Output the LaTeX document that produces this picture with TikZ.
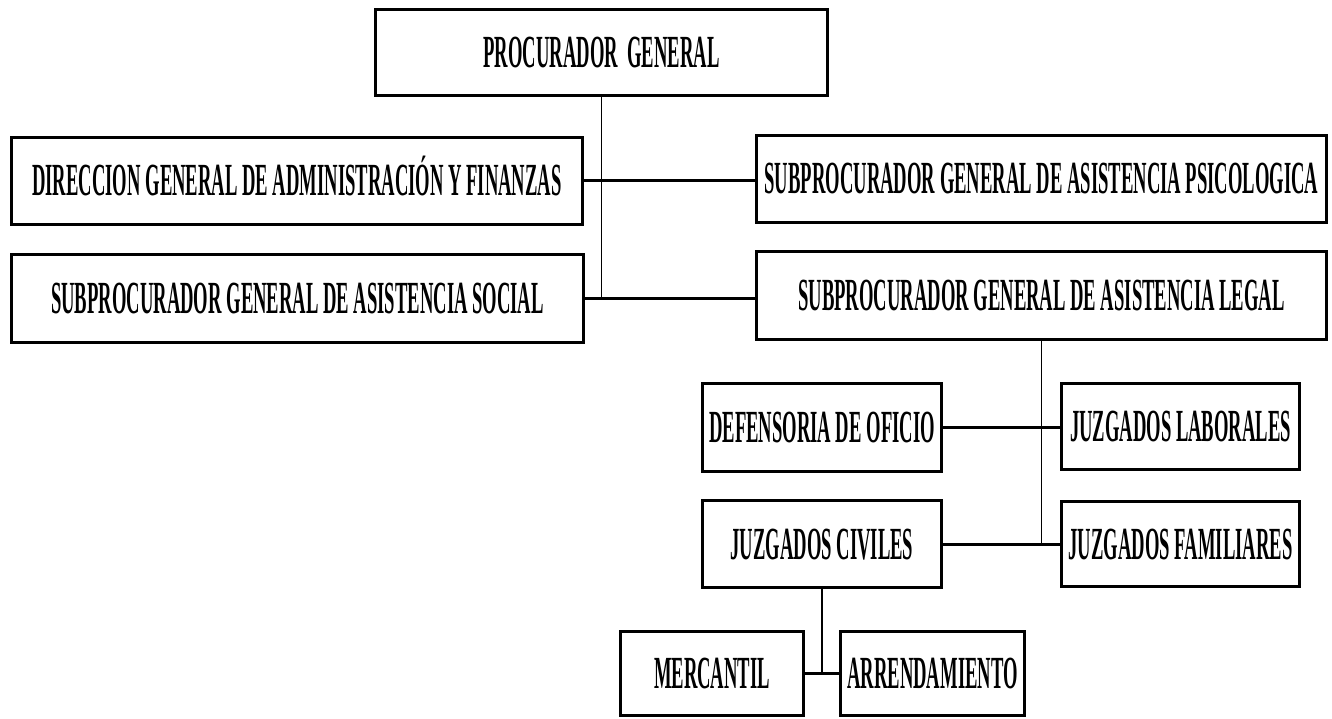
\documentclass[tikz,border=0pt]{standalone}
\usepackage{fontspec}
\newfontfamily\cond[FakeStretch=0.405]{Liberation Serif Bold}
\begin{document}
\begin{tikzpicture}[x=1pt,y=-1pt,
  orgbox/.style={draw, line width=3pt, inner sep=0pt, align=center,
    font=\cond\fontsize{46}{50}\selectfont, text height=30pt, text depth=0pt},
  thickline/.style={line width=3pt},
  thinline/.style={line width=1.4pt}]
\useasboundingbox (0,0) rectangle (1332,719);
\node[orgbox, minimum width=452, minimum height=86] (proc) at (601.5,52.5) {PROCURADOR\ \ GENERAL};
\node[orgbox, minimum width=571, minimum height=87] (dir) at (297,181) {DIRECCION GENERAL DE ADMINISTRACIÓN Y FINANZAS};
\node[orgbox, minimum width=570, minimum height=87] (psi) at (1041.5,179) {SUBPROCURADOR GENERAL DE ASISTENCIA PSICOLOGICA};
\node[orgbox, minimum width=572, minimum height=88] (soc) at (297.5,298.5) {SUBPROCURADOR GENERAL DE ASISTENCIA SOCIAL};
\node[orgbox, minimum width=570, minimum height=88] (leg) at (1041.5,295.5) {SUBPROCURADOR GENERAL DE ASISTENCIA LEGAL};
\node[orgbox, minimum width=239, minimum height=88] (def) at (822,427.5) {DEFENSORIA DE OFICIO};
\node[orgbox, minimum width=238, minimum height=86] (lab) at (1180.5,426.5) {JUZGADOS LABORALES};
\node[orgbox, minimum width=239, minimum height=87] (civ) at (822,544) {JUZGADOS CIVILES};
\node[orgbox, minimum width=238, minimum height=85] (fam) at (1180.5,544) {JUZGADOS FAMILIARES};
\node[orgbox, minimum width=183, minimum height=84] (mer) at (712,673.5) {MERCANTIL};
\node[orgbox, minimum width=184, minimum height=84] (arr) at (932.5,673.5) {ARRENDAMIENTO};
% connectors
\draw[thinline] (proc.south) -- (proc.south |- soc.east);
\draw[thickline] (dir.east) -- (dir.east -| psi.west);
\draw[thickline] (soc.east) -- (soc.east -| leg.west);
\draw[thinline] (leg.south) -- (leg.south |- civ.east);
\draw[thickline] (def.east) -- (def.east -| lab.west);
\draw[thickline] (civ.east) -- (civ.east -| fam.west);
\draw[thinline] (civ.south) -- (civ.south |- mer.east);
\draw[thickline] (mer.east) -- (arr.west);
\end{tikzpicture}
\end{document}
